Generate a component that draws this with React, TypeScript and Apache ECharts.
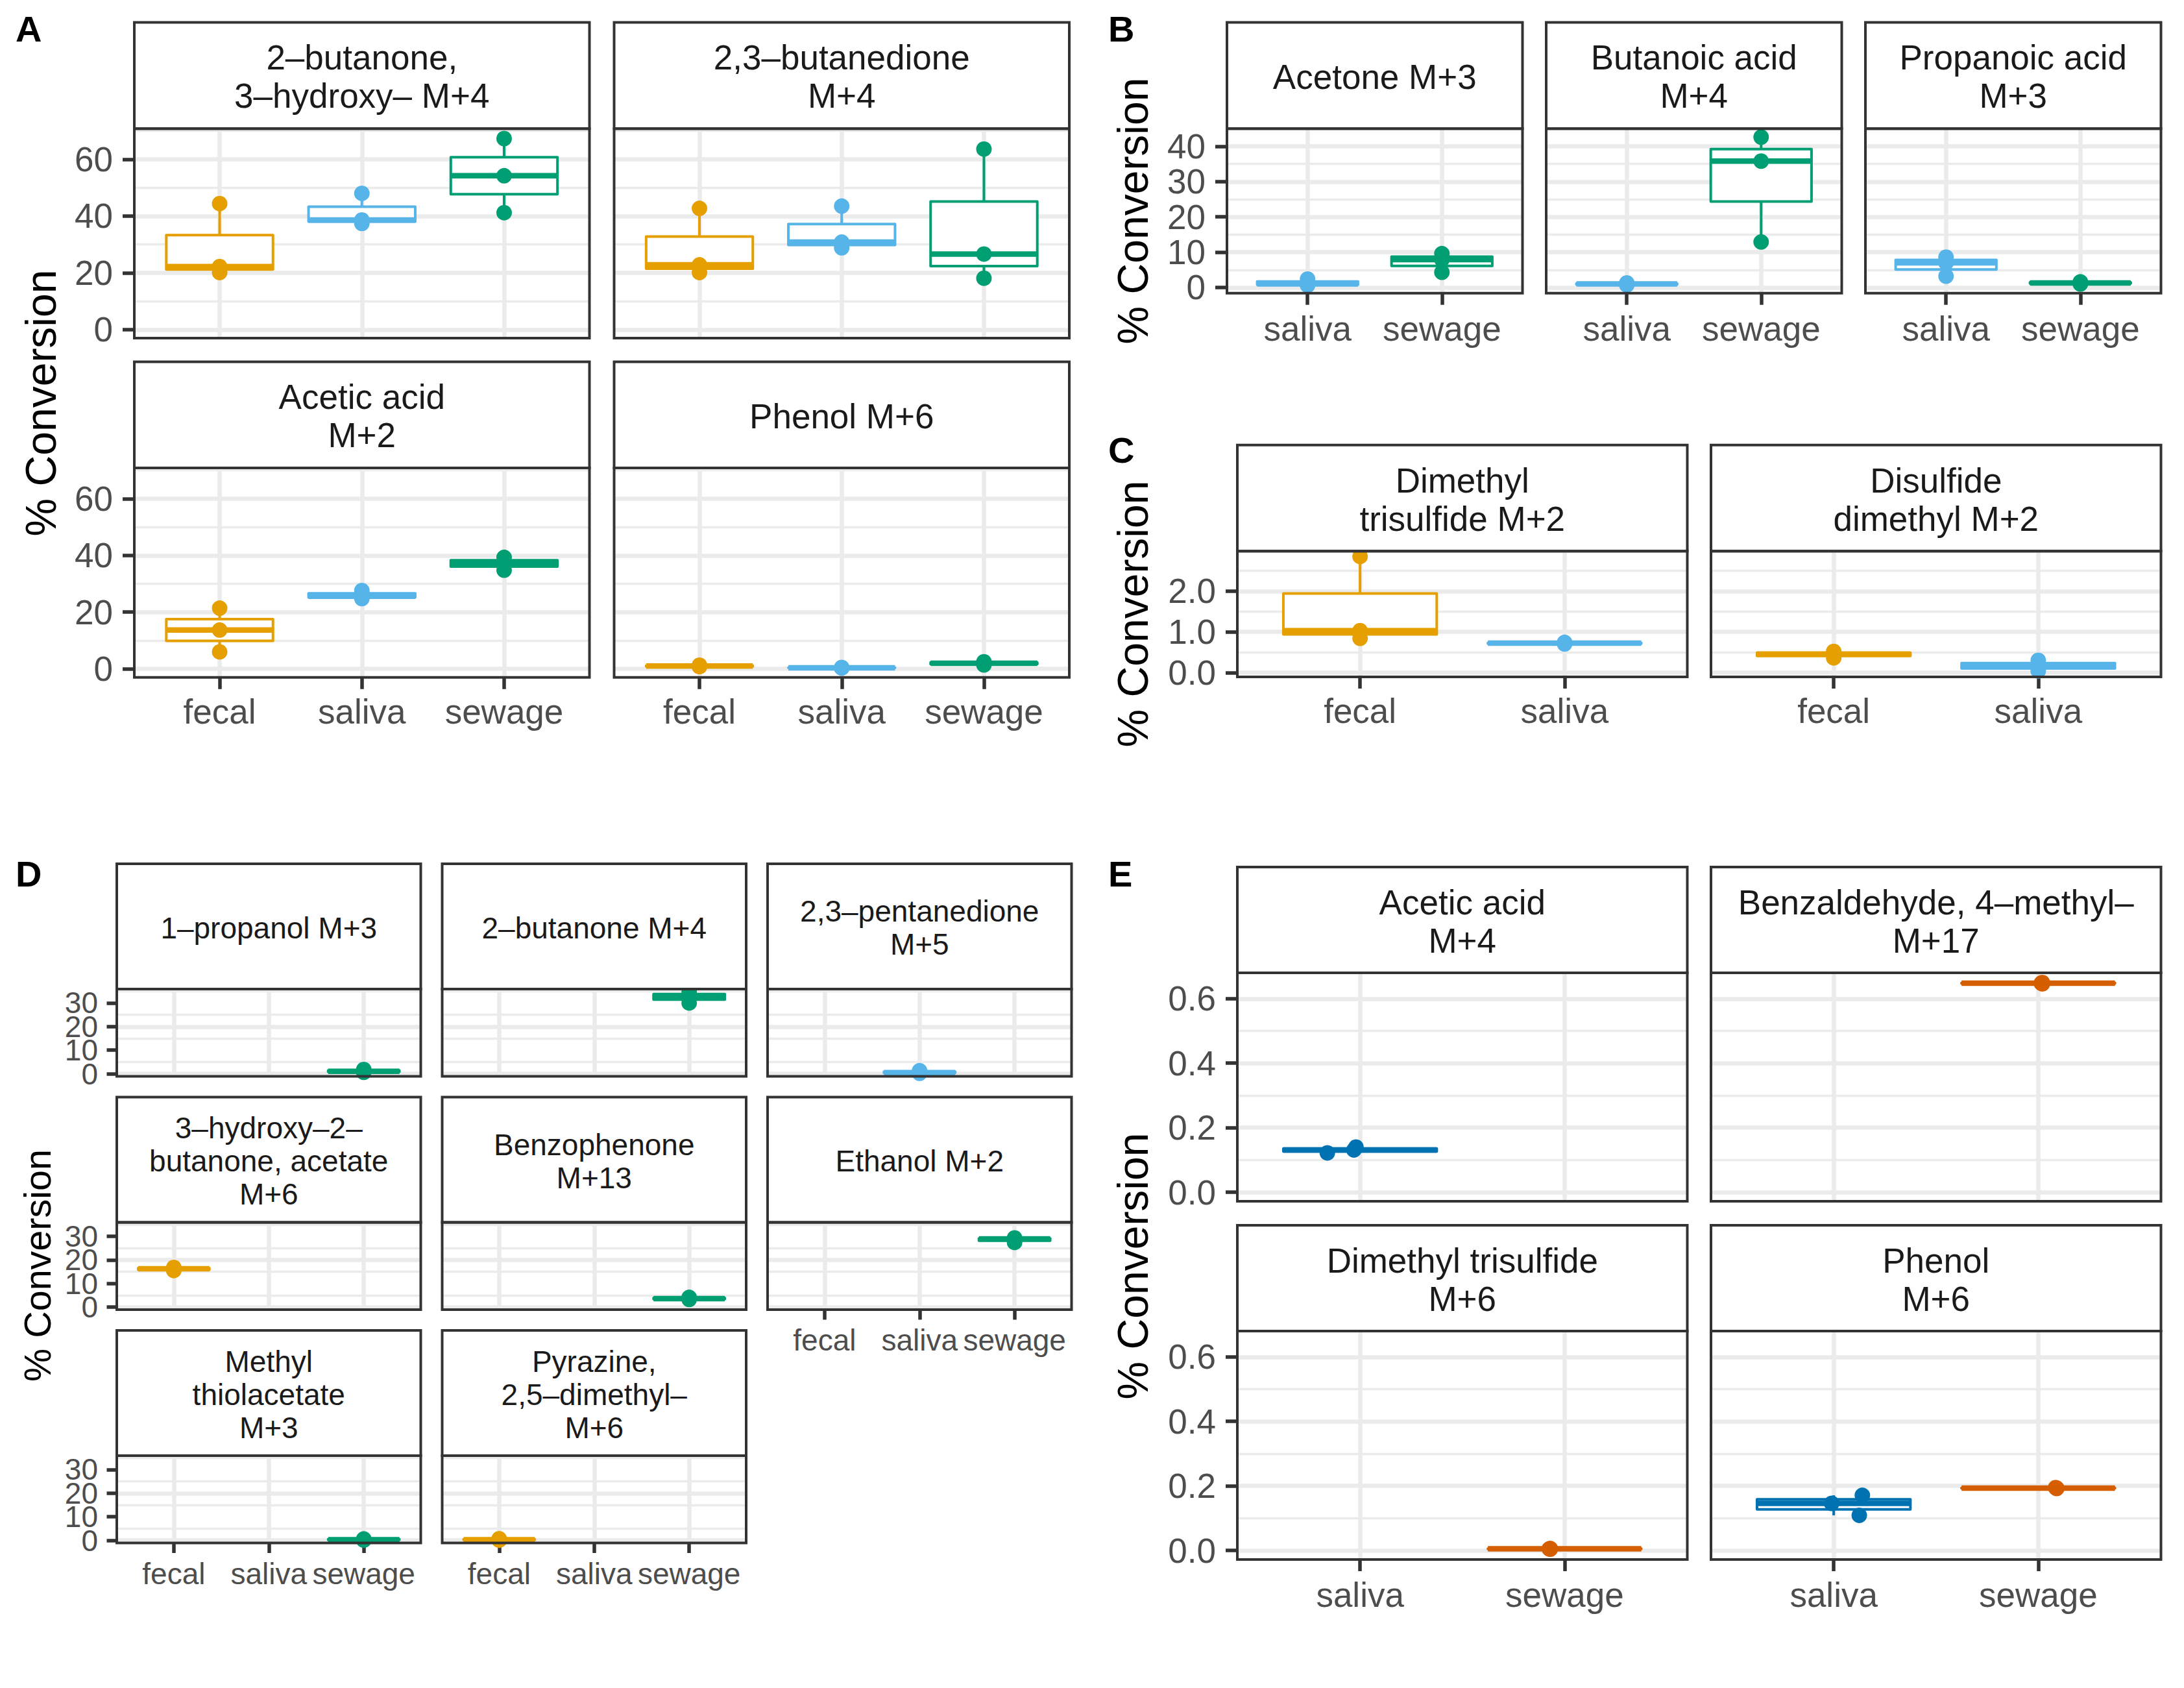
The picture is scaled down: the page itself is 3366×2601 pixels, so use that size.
import React, { useEffect, useRef } from "react";
import * as echarts from "echarts";

// ---------------- DATA ----------------
// Panel A
const A_categories = ["fecal", "saliva", "sewage"];
const A_titles = ["2–butanone,\n3–hydroxy– M+4", "2,3–butanedione\nM+4", "Acetic acid\nM+2", "Phenol M+6"];
const A_values = [
  [[20.1, 22.2, 44.4], [37.4, 38.6, 48.0], [41.2, 54.2, 67.3]],
  [[20.1, 22.8, 42.7], [28.8, 30.8, 43.5], [18.1, 26.6, 63.6]],
  [[6.0, 13.7, 21.4], [24.8, 25.6, 27.6], [34.8, 37.3, 39.3]],
  [[0.8, 1.0, 1.3], [0.35, 0.4, 0.5], [1.4, 2.0, 2.5]],
];
const A_yTicks = [0, 20, 40, 60];

// Panel B
const B_categories = ["saliva", "sewage"];
const B_titles = ["Acetone M+3", "Butanoic acid\nM+4", "Propanoic acid\nM+3"];
const B_values = [
  [[0.6, 1.0, 2.4], [4.3, 7.9, 9.6]],
  [[0.7, 1.0, 1.3], [12.9, 35.8, 42.6]],
  [[3.2, 7.0, 8.6], [1.0, 1.3, 1.6]],
];
const B_yTicks = [0, 10, 20, 30, 40];

// Panel C
const C_categories = ["fecal", "saliva"];
const C_titles = ["Dimethyl\ntrisulfide M+2", "Disulfide\ndimethyl M+2"];
const C_values = [
  [[0.84, 1.03, 2.85], [0.7, 0.72, 0.74]],
  [[0.36, 0.45, 0.52], [0.04, 0.16, 0.3]],
];
const C_yTicks = [0, 1, 2];

// Panel D
const D_categories = ["fecal", "saliva", "sewage"];
const D_titles = [
  "1–propanol M+3",
  "2–butanone M+4",
  "2,3–pentanedione\nM+5",
  "3–hydroxy–2–\nbutanone, acetate\nM+6",
  "Benzophenone\nM+13",
  "Ethanol M+2",
  "Methyl\nthiolacetate\nM+3",
  "Pyrazine,\n2,5–dimethyl–\nM+6",
];
const D_values = [
  [[], [], [0.6, 1.0, 1.8]],
  [[], [], [30.0, 32.9, 34.6]],
  [[], [0.2, 0.5, 1.3], []],
  [[15.5, 16.2, 16.8], [], []],
  [[], [], [3.2, 3.6, 4.1]],
  [[], [], [27.4, 28.9, 29.3]],
  [[], [], [0.1, 0.3, 0.6]],
  [[0.1, 0.3, 0.7], [], []],
];
const D_yTicks = [0, 10, 20, 30];

// Panel E
const E_categories = ["saliva", "sewage"];
const E_titles = ["Acetic acid\nM+4", "Benzaldehyde, 4–methyl–\nM+17", "Dimethyl trisulfide\nM+6", "Phenol\nM+6"];
const E_values = [
  [[0.122, 0.131, 0.14], []],
  [[], [0.646, 0.648, 0.65]],
  [[], [0.004, 0.005, 0.006]],
  [[0.109, 0.146, 0.171], [0.192, 0.193, 0.195]],
];
const E_jitter = [
  [[-0.16, -0.03, -0.02], []],
  [[], [0.02, 0.015, 0.02]],
  [[], [-0.07, -0.075, -0.07]],
  [[0.125, -0.01, 0.14], [0.09, 0.09, 0.085]],
];
const E_yTicks = [0, 0.2, 0.4, 0.6];

const AXIS_TITLE = "% Conversion";

// ---------------- STYLE ----------------
const FONT = "'Liberation Sans', Arimo, Helvetica, Arial, sans-serif";
const PAL3 = ["#E69F00", "#56B4E9", "#009E73"];
const PAL_FS = ["#E69F00", "#56B4E9"]; // fecal, saliva
const PAL_SS = ["#56B4E9", "#009E73"]; // saliva, sewage
const PAL_E = ["#0072B2", "#D55E00"];
const GRID = "#EBEBEB";
const DARK = "#333333";
const AXIS_TXT = "#4D4D4D";
const STRIP_TXT = "#1A1A1A";
const MAJOR = 6.5;
const MINOR = 3.3;
const TICKW = 5.5;
const BORDER = 4;
const BOXLW = 4;
const MEDLW = 8.5;
const PT = 24;

type Group = {
  titles: string[];
  cats: string[];
  values: number[][][];
  jitter?: number[][][];
  colors: string[];
  ncol: number;
  colX: number[];
  colW: number;
  rowY: number[];
  stripH: number;
  panelH: number;
  yMin: number;
  yMax: number;
  yStep: number;
  yTicks: number[];
  yDec: number;
  splitTicks: boolean;
  fs: number;
  lh: number;
  yLabLH: number;
  tickLen: number;
  yMargin: number;
  xMargin: number;
  titleX: number;
  titleY: number;
  titleFs: number;
  letter: string;
  letterX: number;
  letterY: number;
};

const groups: Group[] = [
  {
    titles: A_titles, cats: A_categories, values: A_values, colors: PAL3, ncol: 2,
    colX: [207, 946.5], colW: 701.5, rowY: [34.5, 557.4], stripH: 163.7, panelH: 322.7,
    yMin: -3.0, yMax: 70.8, yStep: 20, yTicks: A_yTicks, yDec: 0, splitTicks: false,
    fs: 53, lh: 59, yLabLH: 53, tickLen: 18, yMargin: 33, xMargin: 26,
    titleX: 63, titleY: 621, titleFs: 66, letter: "A", letterX: 24, letterY: 44,
  },
  {
    titles: B_titles, cats: B_categories, values: B_values, colors: PAL_SS, ncol: 3,
    colX: [1891, 2383, 2875], colW: 455.5, rowY: [34.5], stripH: 163.7, panelH: 253.5,
    yMin: -1.6, yMax: 45.0, yStep: 10, yTicks: B_yTicks, yDec: 0, splitTicks: false,
    fs: 53, lh: 59, yLabLH: 50, tickLen: 18, yMargin: 33, xMargin: 28,
    titleX: 1746, titleY: 325, titleFs: 66, letter: "B", letterX: 1708, letterY: 44,
  },
  {
    titles: C_titles, cats: C_categories, values: C_values, colors: PAL_FS, ncol: 2,
    colX: [1907, 2637], colW: 693.5, rowY: [685.7], stripH: 163.6, panelH: 193.7,
    yMin: -0.107, yMax: 2.98, yStep: 1, yTicks: C_yTicks, yDec: 1, splitTicks: false,
    fs: 53, lh: 59, yLabLH: 53, tickLen: 18, yMargin: 33, xMargin: 26,
    titleX: 1746, titleY: 946, titleFs: 66, letter: "C", letterX: 1708, letterY: 693,
  },
  {
    titles: D_titles, cats: D_categories, values: D_values, colors: PAL3, ncol: 3,
    colX: [180, 681.5, 1183], colW: 468.5, rowY: [1331, 1690.5, 2050], stripH: 193, panelH: 134.5,
    yMin: -1.1, yMax: 35.9, yStep: 10, yTicks: D_yTicks, yDec: 0, splitTicks: true,
    fs: 46, lh: 51, yLabLH: 34, tickLen: 15.5, yMargin: 29, xMargin: 24,
    titleX: 58, titleY: 1950, titleFs: 57.5, letter: "D", letterX: 24, letterY: 1346,
  },
  {
    titles: E_titles, cats: E_categories, values: E_values, jitter: E_jitter, colors: PAL_E, ncol: 2,
    colX: [1907, 2637], colW: 693.5, rowY: [1336, 1888], stripH: 163, panelH: 352,
    yMin: -0.028, yMax: 0.68, yStep: 0.2, yTicks: E_yTicks, yDec: 1, splitTicks: false,
    fs: 53, lh: 59, yLabLH: 53, tickLen: 18, yMargin: 33, xMargin: 28,
    titleX: 1746, titleY: 1951, titleFs: 66, letter: "E", letterX: 1708, letterY: 1346,
  },
];

function quantile(s: number[], p: number) {
  const h = (s.length - 1) * p;
  const lo = Math.floor(h);
  const hi = Math.ceil(h);
  return s[lo] + (h - lo) * (s[hi] - s[lo]);
}

function yAxisDef(g: Group, gi: number, ticks: number[], showY: boolean, withGrid: boolean) {
  return {
    type: "value",
    gridIndex: gi,
    position: "left",
    offset: 0,
    min: g.yMin,
    max: g.yMax,
    minInterval: g.yStep,
    maxInterval: g.yStep,
    axisLine: { show: false, onZero: false },
    splitLine: { show: withGrid, lineStyle: { color: GRID, width: MAJOR } },
    minorTick: { show: false, splitNumber: 2 },
    minorSplitLine: { show: withGrid, lineStyle: { color: GRID, width: MINOR } },
    axisTick: { show: showY, interval: 0, length: g.tickLen, customValues: ticks, lineStyle: { color: DARK, width: TICKW } },
    axisLabel: {
      show: showY,
      interval: 0,
      customValues: ticks,
      showMinLabel: true,
      showMaxLabel: true,
      hideOverlap: false,
      margin: g.yMargin,
      fontSize: g.fs,
      lineHeight: g.yLabLH,
      color: AXIS_TXT,
      fontFamily: FONT,
      formatter: (v: number) => (ticks.some((t) => Math.abs(t - v) < 1e-6) ? v.toFixed(g.yDec) : ""),
    },
  };
}

function buildOption() {
  const grids: any[] = [];
  const xAxes: any[] = [];
  const yAxes: any[] = [];
  const series: any[] = [];
  const elements: any[] = [];

  groups.forEach((g) => {
    const n = g.titles.length;
    g.titles.forEach((title, k) => {
      const row = Math.floor(k / g.ncol);
      const col = k % g.ncol;
      const left = g.colX[col];
      const stripTop = g.rowY[row];
      const top = stripTop + g.stripH;
      const gi = grids.length;
      const showX = k + g.ncol >= n;
      const showY = col === 0;
      const nc = g.cats.length;
      const catIdx = g.cats.map((_, i) => i);

      grids.push({ left, top, width: g.colW, height: g.panelH, containLabel: false });

      xAxes.push({
        type: "value",
        gridIndex: gi,
        position: "bottom",
        min: -0.6,
        max: nc - 0.4,
        minInterval: 1,
        maxInterval: 1,
        axisLine: { show: false, onZero: false },
        splitLine: { show: true, lineStyle: { color: GRID, width: MAJOR } },
        axisTick: { show: showX, interval: 0, length: g.tickLen, customValues: catIdx, lineStyle: { color: DARK, width: TICKW } },
        axisLabel: {
          show: showX,
          interval: 0,
          customValues: catIdx,
          showMinLabel: true,
          showMaxLabel: true,
          hideOverlap: false,
          margin: g.xMargin,
          fontSize: g.fs,
          color: AXIS_TXT,
          fontFamily: FONT,
          formatter: (v: number) => {
            const i = Math.round(v);
            return Math.abs(v - i) < 1e-6 && g.cats[i] ? g.cats[i] : "";
          },
        },
      });

      const yi = yAxes.length;
      if (g.splitTicks) {
        const even = g.yTicks.filter((_, i) => i % 2 === 0);
        const odd = g.yTicks.filter((_, i) => i % 2 === 1);
        yAxes.push(yAxisDef(g, gi, even, showY, true));
        yAxes.push(yAxisDef(g, gi, odd, showY, false));
      } else {
        yAxes.push(yAxisDef(g, gi, g.yTicks, showY, true));
      }

      const boxData: number[][] = [];
      const ptData: any[] = [];
      g.values[k].forEach((pts, ci) => {
        if (!pts.length) return;
        const s = [...pts].sort((a, b) => a - b);
        boxData.push([ci, s[0], quantile(s, 0.25), quantile(s, 0.5), quantile(s, 0.75), s[s.length - 1]]);
        pts.forEach((v, pi) => {
          const jit = g.jitter ? g.jitter[k][ci][pi] : 0;
          ptData.push({ value: [ci + jit, v], itemStyle: { color: g.colors[ci], opacity: 1 } });
        });
      });

      const colors = g.colors;
      series.push({
        type: "custom",
        xAxisIndex: gi,
        yAxisIndex: yi,
        data: boxData,
        clip: true,
        z: 2,
        silent: true,
        encode: { x: 0, y: [1, 2, 3, 4, 5] },
        renderItem: (params: any, api: any) => {
          const c = api.value(0);
          const color = colors[c];
          const half = api.size([0.75, 0])[0] / 2;
          const pMin = api.coord([c, api.value(1)]);
          const pQ1 = api.coord([c, api.value(2)]);
          const pMed = api.coord([c, api.value(3)]);
          const pQ3 = api.coord([c, api.value(4)]);
          const pMax = api.coord([c, api.value(5)]);
          const cx = pMin[0];
          return {
            type: "group",
            children: [
              { type: "line", shape: { x1: cx, y1: pQ3[1], x2: cx, y2: pMax[1] }, style: { stroke: color, lineWidth: BOXLW } },
              { type: "line", shape: { x1: cx, y1: pMin[1], x2: cx, y2: pQ1[1] }, style: { stroke: color, lineWidth: BOXLW } },
              {
                type: "rect",
                shape: { x: cx - half, y: pQ3[1], width: 2 * half, height: pQ1[1] - pQ3[1] },
                style: { fill: "#ffffff", stroke: color, lineWidth: BOXLW, lineJoin: "round" },
              },
              { type: "line", shape: { x1: cx - half, y1: pMed[1], x2: cx + half, y2: pMed[1] }, style: { stroke: color, lineWidth: MEDLW } },
            ],
          };
        },
      });

      series.push({
        type: "scatter",
        xAxisIndex: gi,
        yAxisIndex: yi,
        data: ptData,
        symbol: "circle",
        symbolSize: PT,
        clip: true,
        z: 3,
        silent: true,
        itemStyle: { opacity: 1 },
      });

      // strip
      elements.push({
        type: "rect",
        z: 100,
        shape: { x: left, y: stripTop, width: g.colW, height: g.stripH },
        style: { fill: "#ffffff", stroke: DARK, lineWidth: BORDER },
      });
      elements.push({
        type: "text",
        z: 101,
        x: left + g.colW / 2,
        y: stripTop + g.stripH / 2 + 2,
        style: {
          text: title,
          fontSize: g.fs,
          lineHeight: g.lh,
          fontFamily: FONT,
          fill: STRIP_TXT,
          align: "center",
          verticalAlign: "middle",
        },
      });
      // panel border
      elements.push({
        type: "rect",
        z: 100,
        shape: { x: left, y: top, width: g.colW, height: g.panelH },
        style: { fill: "none", stroke: DARK, lineWidth: BORDER },
      });
    });

    // axis title
    elements.push({
      type: "text",
      z: 101,
      x: g.titleX,
      y: g.titleY,
      rotation: Math.PI / 2,
      style: {
        text: AXIS_TITLE,
        fontSize: g.titleFs,
        fontFamily: FONT,
        fill: "#000000",
        align: "center",
        verticalAlign: "middle",
      },
    });
    // panel letter
    elements.push({
      type: "text",
      z: 101,
      x: g.letterX,
      y: g.letterY,
      style: {
        text: g.letter,
        fontSize: 56,
        fontWeight: "bold",
        fontFamily: FONT,
        fill: "#000000",
        align: "left",
        verticalAlign: "middle",
      },
    });
  });

  return {
    animation: false,
    backgroundColor: "#ffffff",
    textStyle: { fontFamily: FONT },
    grid: grids,
    xAxis: xAxes,
    yAxis: yAxes,
    series,
    graphic: { elements },
  };
}

export default function App() {
  const ref = useRef<HTMLDivElement>(null);
  useEffect(() => {
    document.body.style.margin = "0";
    if (!ref.current) return;
    const chart = echarts.init(ref.current, null, { renderer: "svg" });
    chart.setOption(buildOption() as any);
    return () => chart.dispose();
  }, []);
  return <div ref={ref} style={{ width: 3366, height: 2601, background: "#fff" }} />;
}
